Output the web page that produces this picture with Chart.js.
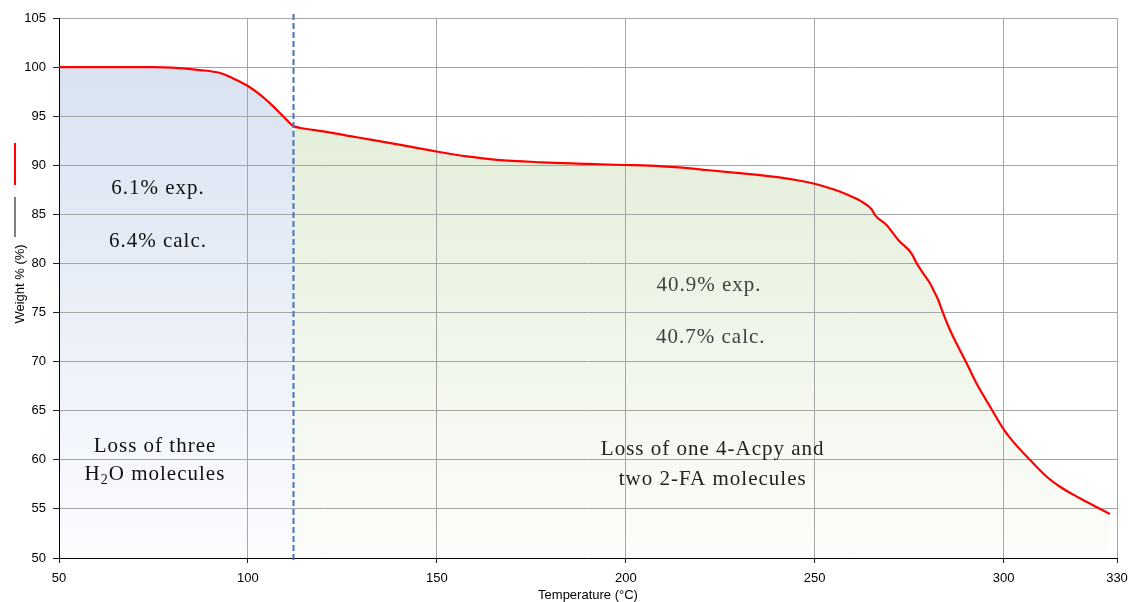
<!DOCTYPE html>
<html>
<head>
<meta charset="utf-8">
<script src="https://cdn.jsdelivr.net/npm/chart.js@4.4.1/dist/chart.umd.min.js"></script>
<style>
  html, body { margin: 0; padding: 0; background: #fff; }
  #wrap { width: 1132px; height: 602px; }
</style>
</head>
<body>
<div id="wrap"><canvas id="tga" width="1132" height="602"></canvas></div>
<script>
// Thermogravimetric curve: temperature (°C) and remaining weight (%)
const temperature = [50, 60, 70, 75, 80, 87.3, 92.6, 95, 97.9, 100.3, 103.2, 106.7, 110.3, 112,
  114, 120, 128.8, 140, 150, 158, 165.8, 178, 190, 199.2, 206.4, 214, 221.4, 230, 238.9, 245, 250.2,
  254.9, 258.4, 262, 265.1, 266, 269, 272.1, 275.6, 277, 278.7, 280.5, 281.4, 282.7, 284, 285.8, 287.5,
  290.2, 292.8, 297.2, 300.1, 302.5, 307, 311.4, 314.9, 320.2, 324, 328.1];
const weight = [100.0, 100.0, 100.0, 100.0, 99.95, 99.7, 99.4, 99.05, 98.5, 98.0, 97.2, 96.0, 94.6, 94.0,
  93.8, 93.45, 92.85, 92.1, 91.4, 90.9, 90.55, 90.3, 90.15, 90.03, 89.97, 89.78, 89.52, 89.2, 88.84, 88.5, 88.09,
  87.55, 87.04, 86.4, 85.5, 84.9, 83.92, 82.39, 81.03, 80.01, 79.0, 77.98, 77.3, 76.28, 74.92, 73.22, 71.87,
  69.83, 67.79, 64.9, 63.04, 61.85, 59.98, 58.28, 57.26, 56.08, 55.3, 54.48];

const xTicks = [50, 100, 150, 200, 250, 300, 330];
const stepBoundary = 112;   // end of the first mass-loss step (°C)

const step1Lines = ['6.1% exp.', '6.4% calc.'];
const step2Lines = ['40.9% exp.', '40.7% calc.'];
const step1Caption = ['Loss of three', ['H', '2', 'O molecules']];
const step2Caption = ['Loss of one 4-Acpy and', 'two 2-FA molecules'];

const points = temperature.map((t, i) => ({ x: t, y: weight[i] }));
const firstStep = points.filter(p => p.x <= stepBoundary);
const secondStep = points.filter(p => p.x >= stepBoundary);

function vGradient(top, bottom) {
  return (context) => {
    const chart = context.chart;
    const area = chart.chartArea;
    if (!area) return top;
    const g = chart.ctx.createLinearGradient(0, area.top, 0, area.bottom);
    g.addColorStop(0, top);
    g.addColorStop(1, bottom);
    return g;
  };
}

const SERIF = '"Liberation Serif", "Times New Roman", serif';
const SANS = '"Liberation Sans", Arial, sans-serif';
const NOTE_FONT = '21px ' + SERIF;

function drawCentered(ctx, text, cx, cy, color) {
  ctx.fillStyle = color;
  ctx.textAlign = 'center';
  ctx.textBaseline = 'middle';
  ctx.fillText(text, cx, cy);
}

// Text line with a subscript part: [before, sub, after]
function drawSubscriptLine(ctx, parts, cx, cy, color) {
  const small = '14px ' + SERIF;
  ctx.font = NOTE_FONT;
  const w1 = ctx.measureText(parts[0]).width;
  const w3 = ctx.measureText(parts[2]).width;
  ctx.font = small;
  const w2 = ctx.measureText(parts[1]).width;
  let x = cx - (w1 + w2 + w3) / 2;
  ctx.fillStyle = color;
  ctx.textAlign = 'left';
  ctx.textBaseline = 'middle';
  ctx.font = NOTE_FONT;
  ctx.fillText(parts[0], x, cy);
  x += w1;
  ctx.font = small;
  ctx.fillText(parts[1], x, cy + 6);
  x += w2;
  ctx.font = NOTE_FONT;
  ctx.fillText(parts[2], x, cy);
}

const notesPlugin = {
  id: 'notes',
  afterDatasetsDraw(chart) {
    const { ctx, chartArea: a, scales: { x, y } } = chart;
    // dashed boundary between the two steps
    ctx.save();
    const bx = Math.round(x.getPixelForValue(stepBoundary)) + 0.5;
    ctx.strokeStyle = '#4472c4';
    ctx.lineWidth = 2;
    ctx.setLineDash([6, 3]);
    ctx.beginPath();
    ctx.moveTo(bx, a.top - 4);
    ctx.lineTo(bx, a.bottom + 4);
    ctx.stroke();
    ctx.restore();

    ctx.save();
    ctx.font = NOTE_FONT;
    try { ctx.letterSpacing = '1px'; } catch (e) {}
    drawCentered(ctx, step1Lines[0], x.getPixelForValue(76.2), y.getPixelForValue(87.6), '#111');
    drawCentered(ctx, step1Lines[1], x.getPixelForValue(76.2), y.getPixelForValue(82.2), '#111');
    drawCentered(ctx, step2Lines[0], x.getPixelForValue(222), y.getPixelForValue(77.8), '#404040');
    drawCentered(ctx, step2Lines[1], x.getPixelForValue(222.5), y.getPixelForValue(72.5), '#404040');
    drawCentered(ctx, step1Caption[0], x.getPixelForValue(75.4), y.getPixelForValue(61.4), '#111');
    drawSubscriptLine(ctx, step1Caption[1], x.getPixelForValue(75.4), y.getPixelForValue(58.55), '#111');
    ctx.font = NOTE_FONT;
    drawCentered(ctx, step2Caption[0], x.getPixelForValue(223), y.getPixelForValue(61.1), '#222');
    drawCentered(ctx, step2Caption[1], x.getPixelForValue(223), y.getPixelForValue(58.0), '#222');
    ctx.restore();
  },
  afterDraw(chart) {
    // vertical axis title with its line keys
    const ctx = chart.ctx;
    ctx.save();
    ctx.lineWidth = 2;
    ctx.strokeStyle = '#ff0000';
    ctx.beginPath(); ctx.moveTo(15, 143); ctx.lineTo(15, 185); ctx.stroke();
    ctx.strokeStyle = '#555555';
    ctx.lineWidth = 1.5;
    ctx.beginPath(); ctx.moveTo(15, 197); ctx.lineTo(15, 237); ctx.stroke();
    ctx.translate(20, 284);
    ctx.rotate(-Math.PI / 2);
    ctx.font = '13px ' + SANS;
    ctx.fillStyle = '#000';
    ctx.textAlign = 'center';
    ctx.textBaseline = 'middle';
    ctx.fillText('Weight % (%)', 0, 0);
    ctx.restore();
  }
};

new Chart(document.getElementById('tga'), {
  type: 'line',
  data: {
    datasets: [
      {
        label: 'Weight %',
        data: points,
        borderColor: '#ff0000',
        borderWidth: 2.2,
        pointRadius: 0,
        fill: false,
        cubicInterpolationMode: 'monotone',
        order: 0
      },
      {
        label: 'step 1',
        data: firstStep,
        borderWidth: 0,
        pointRadius: 0,
        fill: 'start',
        backgroundColor: vGradient('#d6e0f1', '#fbfcfe'),
        cubicInterpolationMode: 'monotone',
        order: 1
      },
      {
        label: 'step 2',
        data: secondStep,
        borderWidth: 0,
        pointRadius: 0,
        fill: 'start',
        backgroundColor: vGradient('#deebd2', '#fcfdfa'),
        cubicInterpolationMode: 'monotone',
        order: 2
      }
    ]
  },
  options: {
    responsive: false,
    animation: false,
    devicePixelRatio: 1,
    layout: { padding: { left: 0, right: 15, top: 18, bottom: 0 } },
    plugins: {
      legend: { display: false },
      tooltip: { enabled: false },
      filler: { drawTime: 'beforeDraw' }
    },
    scales: {
      x: {
        type: 'linear',
        min: 50,
        max: 330,
        afterBuildTicks: (s) => { s.ticks = xTicks.map(v => ({ value: v })); },
        afterFit: (s) => { s.height = 44; s.paddingLeft = 0; s.paddingRight = 0; },
        grid: { color: '#a6a6a6', lineWidth: 1, tickLength: 5, tickColor: '#222' },
        border: { color: '#000', width: 1 },
        ticks: { color: '#000', font: { family: SANS, size: 13 }, padding: 8, maxRotation: 0, autoSkip: false },
        title: { display: true, text: 'Temperature (°C)', color: '#000', font: { family: SANS, size: 13 }, padding: { top: 0, bottom: -1 } }
      },
      y: {
        min: 50,
        max: 105,
        afterFit: (s) => { s.width = 59; s.paddingTop = 0; s.paddingBottom = 0; },
        grid: { color: '#a6a6a6', lineWidth: 1, tickLength: 6, tickColor: '#222' },
        border: { color: '#000', width: 1 },
        ticks: { stepSize: 5, color: '#000', font: { family: SANS, size: 13 }, padding: 7 }
      }
    }
  },
  plugins: [notesPlugin]
});
</script>
</body>
</html>
